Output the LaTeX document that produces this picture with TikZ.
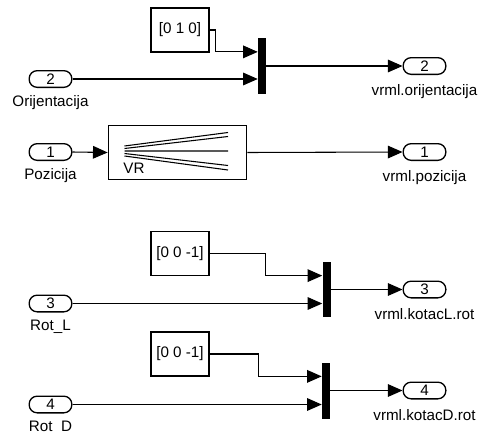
\documentclass[tikz,border=0pt]{standalone}
\usepackage{fontspec}
\setmainfont{Liberation Sans}
\usetikzlibrary{arrows.meta,positioning,calc}

\begin{document}
\begin{tikzpicture}[x=0.75pt, y=-0.75pt,
    every node/.style={font=\fontsize{11.4}{13}\selectfont},
    port/.style={draw, line width=1pt, rounded corners=6pt, minimum width=32pt, minimum height=12.5pt, inner sep=0pt},
    const/.style={draw, line width=0.8pt, minimum width=43.5pt, minimum height=33pt, inner sep=0pt},
    mux/.style={fill=black, minimum width=6pt, minimum height=42pt, inner sep=0pt},
    lbl/.style={inner sep=1pt},
    sig/.style={-{Triangle[length=11pt,width=9.5pt]}, line width=0.8pt}
]
\useasboundingbox (0,0) rectangle (478,432);

% orijentacija
\node[const] (k1) at (180,30) {[0 1 0]};
\node[port, label={[lbl,label distance=4.5pt]below:Orijentacija}] (in2) at (50.5,79) {2};
\node[mux] (mux1) at (262,66) {};
\node[port, label={[lbl,label distance=6pt]below:vrml.orijentacija}] (out2) at (424.5,66) {2};

% pozicija
\node[port, label={[lbl,label distance=4.5pt]below:Pozicija}] (in1) at (50.5,152) {1};
\node[draw, line width=0.8pt, minimum width=104pt, minimum height=41pt, inner sep=0pt] (vr) at (177.5,152.5) {};
\node (vrtxt) at (134,168) {VR};
\node[port, label={[lbl,label distance=6pt]below:vrml.pozicija}] (out1) at (424.5,152) {1};

% kotac L
\node[const] (k2) at (180,253.5) {[0 0 -1]};
\node[port, label={[lbl,label distance=4.5pt]below:Rot\_L}] (in3) at (50.5,303.5) {3};
\node[mux, minimum height=41.25pt] (mux2) at (326.5,289.5) {};
\node[port, label={[lbl,label distance=6pt]below:vrml.kotacL.rot}] (out3) at (424.5,289.5) {3};

% kotac D
\node[const] (k3) at (180,354) {[0 0 -1]};
\node[port, label={[lbl,label distance=4.5pt]below:Rot\_D}] (in4) at (50.5,404.5) {4};
\node[mux] (mux3) at (326,390.5) {};
\node[port, label={[lbl,label distance=6pt]below:vrml.kotacD.rot}] (out4) at (424.5,390.5) {4};

% VR ikona
\draw[line width=0.8pt, shift={(vr.center)}]
    (-53,-6.5) -- (50.5,-20)
    (-53,-4) -- (50.5,-16)
    (-53,-1.5) -- (50.5,-1.5)
    (-53,1) -- (50.5,13)
    (-53,3.5) -- (50.5,17.5);

% veze
\draw[sig] (k1.east) -- ++(6,0) |- ($(mux1.north west)!0.25!(mux1.south west)$);
\draw[sig] (in2.east) -- (in2.east -| mux1.west);
\draw[sig] (mux1.east) -- (out2.west);

\draw[sig] (in1.east) -- (vr.west);
\draw[sig] (vr.east) -- (out1.west);

\draw[sig] (k2.east) -- ++(56,0) |- ($(mux2.north west)!0.25!(mux2.south west)$);
\draw[sig] (in3.east) -- (in3.east -| mux2.west);
\draw[sig] (mux2.east) -- (out3.west);

\draw[sig] (k3.east) -- ++(49,0) |- ($(mux3.north west)!0.25!(mux3.south west)$);
\draw[sig] (in4.east) -- (in4.east -| mux3.west);
\draw[sig] (mux3.east) -- (out4.west);
\end{tikzpicture}
\end{document}
